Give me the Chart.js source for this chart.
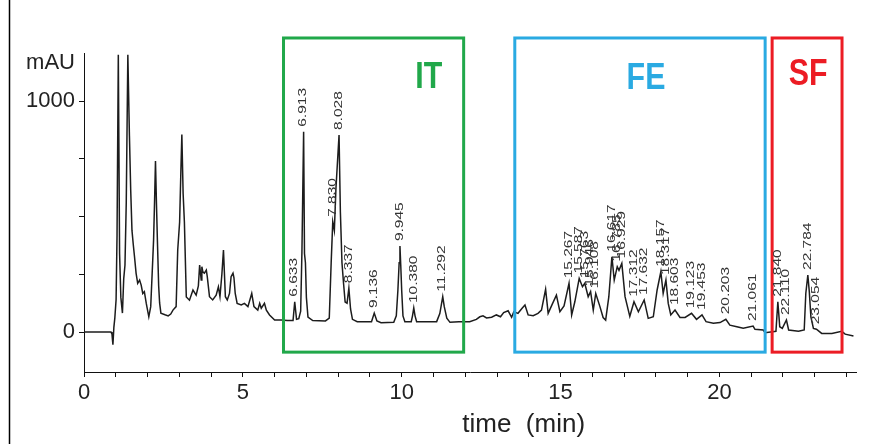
<!DOCTYPE html>
<html>
<head>
<meta charset="utf-8">
<script src="https://cdn.jsdelivr.net/npm/chart.js@4.4.1/dist/chart.umd.min.js"></script>
<style>
  html, body { margin: 0; padding: 0; background: #fff; }
</style>
</head>
<body>
<canvas id="chrom" width="885" height="444"></canvas>
<script>
// trace: retention time (min) and signal (mAU)
const traceTime = [
  0.00, 0.85, 0.88, 0.91, 0.94, 0.97, 1.01, 1.04, 1.08, 1.12, 1.16, 1.21, 1.25, 1.29, 1.33, 1.38,
  1.43, 1.47, 1.51, 1.55, 1.59, 1.64, 1.69, 1.75, 1.80, 1.85, 1.90, 1.96, 2.04, 2.10, 2.16, 2.19,
  2.22, 2.25, 2.28, 2.31, 2.35, 2.38, 2.42, 2.55, 2.65, 2.73, 2.80, 2.90, 2.95, 3.01, 3.05, 3.08,
  3.12, 3.16, 3.22, 3.32, 3.43, 3.53, 3.60, 3.64, 3.69, 3.71, 3.74, 3.79, 3.85, 3.88, 3.95, 4.05,
  4.16, 4.23, 4.28, 4.34, 4.39, 4.45, 4.51, 4.58, 4.63, 4.69, 4.72, 4.76, 4.82, 4.95, 5.05, 5.16,
  5.28, 5.35, 5.47, 5.53, 5.58, 5.68, 5.74, 5.84, 6.00, 6.21, 6.40, 6.58, 6.633, 6.69, 6.76, 6.82,
  6.86, 6.913, 6.94, 6.97, 7.00, 7.05, 7.20, 7.60, 7.72, 7.78, 7.83, 7.88, 7.93, 8.028, 8.07, 8.12,
  8.17, 8.22, 8.28, 8.337, 8.39, 8.45, 8.60, 9.05, 9.136, 9.22, 9.35, 9.75, 9.83, 9.88, 9.92, 9.945,
  9.97, 10.00, 10.04, 10.10, 10.30, 10.34, 10.38, 10.42, 10.47, 11.10, 11.20, 11.25, 11.292, 11.34, 11.42, 11.52,
  11.80, 12.14, 12.35, 12.46, 12.56, 12.67, 12.83, 12.98, 13.11, 13.21, 13.35, 13.46, 13.53, 13.66, 13.79, 13.88,
  13.98, 14.14, 14.29, 14.40, 14.53, 14.61, 14.74, 14.87, 14.98, 15.11, 15.267, 15.35, 15.45, 15.587, 15.69, 15.763,
  15.87, 15.946, 16.03, 16.108, 16.24, 16.34, 16.42, 16.52, 16.617, 16.69, 16.785, 16.84, 16.929, 17.03, 17.18, 17.312,
  17.45, 17.632, 17.76, 17.92, 18.04, 18.157, 18.23, 18.317, 18.39, 18.47, 18.603, 18.76, 18.92, 19.123, 19.28, 19.453,
  19.58, 19.81, 20.02, 20.203, 20.33, 20.55, 20.75, 21.061, 21.12, 21.38, 21.44, 21.78, 21.84, 21.90, 21.98, 22.11,
  22.18, 22.49, 22.67, 22.72, 22.784, 22.83, 22.88, 22.96, 23.054, 23.22, 23.54, 23.85, 23.96, 24.22
];
const traceMAU = [
  0, 0, -8, -55, 20, 60, 140, 420, 1200, 340, 150, 82, 230, 290, 560, 1200,
  850, 615, 440, 380, 326, 254, 211, 225, 203, 167, 175, 124, 66, 110, 300, 398,
  560, 740, 560, 398, 200, 126, 82, 75, 70, 78, 95, 110, 355, 476, 700, 855,
  600, 476, 152, 138, 182, 160, 200, 290, 225, 283, 260, 255, 268, 240, 153, 139,
  160, 196, 153, 250, 355, 153, 139, 167, 240, 255, 235, 167, 124, 117, 124, 110,
  167, 110, 95, 124, 103, 124, 95, 74, 52, 52, 50, 50, 131, 55, 58, 90,
  350, 867, 340, 300, 150, 65, 50, 48, 60, 300, 477, 440, 620, 853, 520, 300,
  210, 130, 125, 190, 100, 55, 45, 45, 82, 48, 40, 42, 70, 180, 300, 372,
  290, 180, 70, 45, 45, 70, 104, 70, 45, 45, 80, 120, 153, 110, 60, 42,
  45, 45, 55, 66, 70, 61, 64, 74, 66, 84, 92, 64, 88, 81, 103, 117,
  74, 71, 81, 95, 185, 81, 121, 160, 88, 113, 211, 74, 131, 232, 196, 211,
  153, 175, 95, 167, 110, 63, 52, 153, 326, 225, 283, 267, 297, 153, 68, 131,
  88, 139, 59, 66, 182, 261, 167, 225, 124, 74, 95, 63, 63, 81, 55, 74,
  45, 38, 41, 55, 30, 23, 16, 26, 12, 9, -3, 3, 131, 23, 16, 52,
  9, 3, 9, 167, 247, 175, 66, 16, 12, -6, -6, 3, -9, -17
];

// labelled peaks (retention time printed above each peak)
const peakLabel = [
  '6.633', '6.913', '7.830', '8.028', '8.337', '9.136', '9.945', '10.380', '11.292',
  '15.267', '15.587', '15.763', '15.946', '16.108', '16.617', '16.785', '16.929', '17.312',
  '17.632', '18.157', '18.317', '18.603', '19.123', '19.453', '20.203', '21.061',
  '21.840', '22.110', '22.784', '23.054'
];

// fractions marked on the chromatogram (min)
const regionName = ['IT', 'FE', 'SF'];
const regionFrom = [6.28, 13.56, 21.66];
const regionTo = [11.95, 21.44, 23.86];

const xLabelled = [0, 5, 10, 15, 20];
const yLabelled = [0, 1000];

const regionColor = ['#21a84a', '#2aaae2', '#ec1c24'];
const regionTextAt = [10.85, 17.69, 22.79];   // where the big letters sit
const regionTextY = [78, 79, 75];

const points = traceTime.map((t, i) => ({ x: t, y: traceMAU[i] }));

function apexAt(t) {
  let best = -Infinity;
  traceTime.forEach((tt, i) => {
    if (Math.abs(tt - t) < 0.03 && traceMAU[i] > best) best = traceMAU[i];
  });
  return best;
}

const decor = {
  id: 'decor',
  afterDraw(chart) {
    const { ctx, chartArea, scales: { x, y } } = chart;
    ctx.save();

    // outer frame of the figure
    ctx.strokeStyle = '#000';
    ctx.lineWidth = 1.5;
    ctx.beginPath();
    ctx.moveTo(9.5, 0);
    ctx.lineTo(9.5, 444);
    ctx.stroke();

    // fraction boxes
    ctx.lineWidth = 3;
    regionName.forEach((name, i) => {
      const l = x.getPixelForValue(regionFrom[i]);
      const r = x.getPixelForValue(regionTo[i]);
      const t = y.getPixelForValue(1273);
      const b = y.getPixelForValue(-87);
      ctx.strokeStyle = regionColor[i];
      ctx.strokeRect(l, t, r - l, b - t);

      ctx.save();
      ctx.translate(x.getPixelForValue(regionTextAt[i]), regionTextY[i]);
      ctx.scale(0.82, 1);
      ctx.fillStyle = regionColor[i];
      ctx.font = 'bold 37px "Liberation Sans", Arial, sans-serif';
      ctx.textAlign = 'center';
      ctx.textBaseline = 'middle';
      ctx.fillText(name, 0, 0);
      ctx.restore();
    });

    // retention time labels, rotated, just above each apex
    ctx.fillStyle = '#333';
    ctx.font = '10px "Liberation Sans", Arial, sans-serif';
    peakLabel.forEach(txt => {
      const t = parseFloat(txt);
      const px = x.getPixelForValue(t);
      const py = y.getPixelForValue(apexAt(t)) - 5;
      ctx.save();
      ctx.translate(px, py);
      ctx.rotate(-Math.PI / 2);
      ctx.scale(1.55, 1);
      ctx.textAlign = 'left';
      ctx.textBaseline = 'middle';
      ctx.fillText(txt, 0, 0);
      ctx.restore();
    });

    // unit above the y axis and the x axis title
    ctx.fillStyle = '#222';
    ctx.font = '22px "Liberation Sans", Arial, sans-serif';
    ctx.textAlign = 'right';
    ctx.textBaseline = 'middle';
    ctx.fillText('mAU', chartArea.left - 9, chartArea.top + 10);
    ctx.textAlign = 'center';
    ctx.font = '26px "Liberation Sans", Arial, sans-serif';
    ctx.fillText('time  (min)', x.getPixelForValue(13.84), chartArea.bottom + 53);

    ctx.restore();
  }
};

const ctx = document.getElementById('chrom').getContext('2d');
const chrom = new Chart(ctx, {
  type: 'line',
  data: {
    datasets: [{
      data: points,
      borderColor: '#1c1c1c',
      borderWidth: 1.5,
      pointRadius: 0,
      tension: 0,
      fill: false
    }]
  },
  options: {
    responsive: false,
    animation: false,
    layout: { padding: { left: 0, top: 53, right: 29, bottom: 0 } },
    plugins: {
      legend: { display: false },
      tooltip: { enabled: false }
    },
    scales: {
      x: {
        type: 'linear',
        min: 0,
        max: 24.3,
        afterFit: s => { s.height = 72; },
        border: { display: true, color: '#111', width: 1 },
        grid: { display: true, drawOnChartArea: false, drawTicks: true, tickLength: 5, color: '#111' },
        ticks: {
          stepSize: 1,
          includeBounds: false,
          autoSkip: false,
          maxRotation: 0,
          padding: 3,
          color: '#222',
          font: { family: '"Liberation Sans", Arial, sans-serif', size: 22 },
          callback: v => xLabelled.includes(v) ? String(v) : ''
        }
      },
      y: {
        type: 'linear',
        min: -173,
        max: 1208,
        afterFit: s => { s.width = 84; },
        border: { display: true, color: '#111', width: 1 },
        grid: { display: true, drawOnChartArea: false, drawTicks: true, tickLength: 5, color: '#111' },
        ticks: {
          stepSize: 250,
          includeBounds: false,
          autoSkip: false,
          padding: 4,
          color: '#222',
          font: { family: '"Liberation Sans", Arial, sans-serif', size: 22 },
          callback: v => yLabelled.includes(v) ? String(v) : ''
        }
      }
    }
  },
  plugins: [decor]
});
</script>
</body>
</html>
